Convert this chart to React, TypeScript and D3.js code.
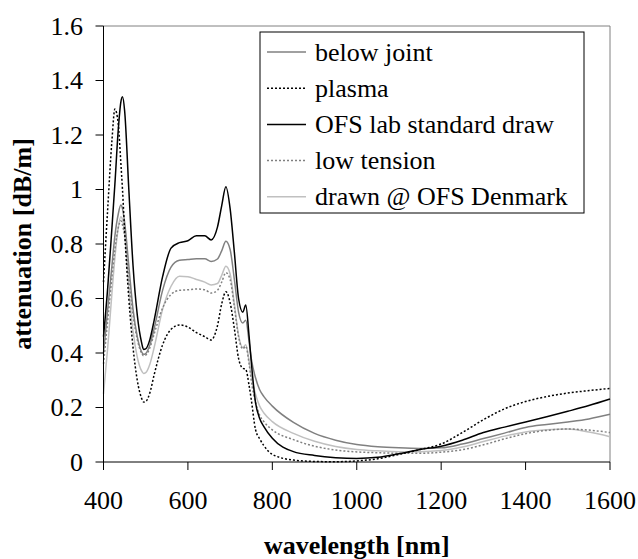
import React from "react";
import * as d3 from "d3";

const wavelengths = [400, 410, 420, 427, 435, 441, 445, 450, 460, 470, 480, 490, 495, 500, 510, 520, 540, 560, 580, 600, 620, 640, 655, 670, 680, 690, 700, 710, 720, 730, 737, 745, 750, 760, 770, 780, 800, 850, 900, 950, 1000, 1050, 1100, 1150, 1200, 1250, 1300, 1350, 1400, 1450, 1500, 1550, 1600];

const belowJoint = [0.40, 0.56, 0.72, 0.83, 0.91, 0.943, 0.93, 0.88, 0.72, 0.56, 0.46, 0.405, 0.395, 0.398, 0.43, 0.49, 0.63, 0.715, 0.74, 0.743, 0.746, 0.746, 0.736, 0.745, 0.775, 0.81, 0.78, 0.67, 0.55, 0.51, 0.52, 0.44, 0.38, 0.31, 0.265, 0.24, 0.205, 0.145, 0.105, 0.08, 0.064, 0.056, 0.052, 0.05, 0.052, 0.066, 0.086, 0.106, 0.127, 0.138, 0.147, 0.158, 0.175];

const plasma = [0.66, 0.93, 1.18, 1.295, 1.24, 1.10, 1.0, 0.85, 0.60, 0.42, 0.30, 0.235, 0.22, 0.222, 0.255, 0.32, 0.43, 0.487, 0.503, 0.495, 0.475, 0.46, 0.448, 0.50, 0.58, 0.625, 0.585, 0.49, 0.38, 0.344, 0.34, 0.28, 0.23, 0.12, 0.085, 0.06, 0.028, 0.007, 0.002, 0.001, 0.004, 0.012, 0.028, 0.046, 0.066, 0.108, 0.155, 0.195, 0.222, 0.24, 0.253, 0.262, 0.27];

const ofsLab = [0.46, 0.64, 0.86, 1.02, 1.22, 1.32, 1.34, 1.29, 1.0, 0.72, 0.54, 0.44, 0.413, 0.415, 0.45, 0.52, 0.68, 0.785, 0.805, 0.812, 0.83, 0.83, 0.815, 0.862, 0.94, 1.01, 0.93, 0.77, 0.60, 0.55, 0.576, 0.46, 0.37, 0.22, 0.16, 0.13, 0.087, 0.038, 0.024, 0.016, 0.013, 0.017, 0.03, 0.046, 0.058, 0.08, 0.108, 0.128, 0.147, 0.166, 0.186, 0.207, 0.231];

const lowTension = [0.36, 0.52, 0.68, 0.78, 0.86, 0.885, 0.87, 0.83, 0.68, 0.54, 0.45, 0.40, 0.39, 0.392, 0.42, 0.47, 0.565, 0.615, 0.63, 0.632, 0.635, 0.632, 0.62, 0.63, 0.66, 0.695, 0.67, 0.57, 0.46, 0.415, 0.425, 0.36, 0.30, 0.22, 0.172, 0.148, 0.118, 0.082, 0.058, 0.044, 0.037, 0.034, 0.032, 0.032, 0.036, 0.045, 0.063, 0.085, 0.104, 0.116, 0.121, 0.117, 0.108];

const drawnDenmark = [0.25, 0.42, 0.62, 0.75, 0.86, 0.90, 0.89, 0.84, 0.64, 0.48, 0.385, 0.335, 0.325, 0.328, 0.36, 0.42, 0.56, 0.645, 0.682, 0.68, 0.67, 0.66, 0.65, 0.655, 0.685, 0.718, 0.69, 0.58, 0.465, 0.42, 0.43, 0.37, 0.32, 0.25, 0.205, 0.18, 0.148, 0.105, 0.076, 0.057, 0.046, 0.041, 0.038, 0.038, 0.042, 0.055, 0.075, 0.095, 0.11, 0.118, 0.121, 0.11, 0.093];

const seriesNames = ["below joint", "plasma", "OFS lab standard draw", "low tension", "drawn @ OFS Denmark"];
const seriesValues = [belowJoint, plasma, ofsLab, lowTension, drawnDenmark];
const seriesColors = ["#808080", "#000000", "#000000", "#808080", "#c0c0c0"];
const seriesDash = [null, "2,2", null, "2,2", null];

const xTicks = [400, 600, 800, 1000, 1200, 1400, 1600];
const yTicks = [0, 0.2, 0.4, 0.6, 0.8, 1, 1.2, 1.4, 1.6];

const W = 638;
const H = 559;
const M = { left: 103.5, right: 610, top: 26, bottom: 462 };
const FONT = "'Liberation Serif', 'Times New Roman', serif";

export default function App() {
  const x = d3.scaleLinear().domain([400, 1600]).range([M.left, M.right]);
  const y = d3.scaleLinear().domain([0, 1.6]).range([M.bottom, M.top]);
  const line = d3
    .line<number>()
    .x((_, i) => x(wavelengths[i]))
    .y((d) => y(d))
    .curve(d3.curveMonotoneX);

  const order = [4, 3, 0, 1, 2];
  const legX = 260;
  const legY = 32;
  const legW = 324;
  const legH = 181;
  const rowY = (i: number) => 52 + i * 36.2;

  return (
    <svg
      width={W}
      height={H}
      style={{ position: "absolute", left: 0, top: 0, background: "#fff" }}
      fontFamily={FONT}
    >
      <rect x={0} y={0} width={W} height={H} fill="#fff" />
      {/* plot frame top/right */}
      <line x1={M.left} x2={M.right} y1={M.top} y2={M.top} stroke="#808080" strokeWidth={1} />
      <line x1={M.right} x2={M.right} y1={M.top} y2={M.bottom} stroke="#808080" strokeWidth={1} />

      {/* series */}
      {order.map((k) => (
        <path
          key={k}
          d={line(seriesValues[k]) || ""}
          fill="none"
          stroke={seriesColors[k]}
          strokeWidth={1.5}
          strokeDasharray={seriesDash[k] || undefined}
        />
      ))}

      {/* axes */}
      <line x1={M.left} x2={M.left} y1={M.top} y2={M.bottom} stroke="#000" strokeWidth={1} />
      <line x1={M.left} x2={M.right} y1={M.bottom} y2={M.bottom} stroke="#000" strokeWidth={1} />
      {yTicks.map((t) => (
        <g key={"y" + t}>
          <line x1={M.left - 8} x2={M.left} y1={y(t)} y2={y(t)} stroke="#000" strokeWidth={1} />
          <text
            x={83}
            y={y(t)}
            textAnchor="end"
            dominantBaseline="central"
            fontSize={26}
            fill="#000"
          >
            {String(t)}
          </text>
        </g>
      ))}
      {xTicks.map((t) => (
        <g key={"x" + t}>
          <line x1={x(t)} x2={x(t)} y1={M.bottom} y2={M.bottom + 8} stroke="#000" strokeWidth={1} />
          <text x={x(t)} y={500} textAnchor="middle" dominantBaseline="central" fontSize={26} fill="#000">
            {String(t)}
          </text>
        </g>
      ))}

      <text
        x={(M.left + M.right) / 2}
        y={545}
        textAnchor="middle"
        dominantBaseline="central"
        fontSize={26}
        fontWeight="bold"
        fill="#000"
      >
        wavelength [nm]
      </text>
      <text
        transform={`translate(22,${(M.top + M.bottom) / 2}) rotate(-90)`}
        textAnchor="middle"
        dominantBaseline="central"
        fontSize={26}
        fontWeight="bold"
        fill="#000"
      >
        attenuation [dB/m]
      </text>

      {/* legend */}
      <rect x={legX} y={legY} width={legW} height={legH} fill="#fff" stroke="#000" strokeWidth={1} />
      {seriesNames.map((name, i) => (
        <g key={name}>
          <line
            x1={267}
            x2={306}
            y1={rowY(i)}
            y2={rowY(i)}
            stroke={seriesColors[i]}
            strokeWidth={1.5}
            strokeDasharray={seriesDash[i] || undefined}
          />
          <text x={315} y={rowY(i)} dominantBaseline="central" fontSize={26} fill="#000">
            {name}
          </text>
        </g>
      ))}
    </svg>
  );
}
